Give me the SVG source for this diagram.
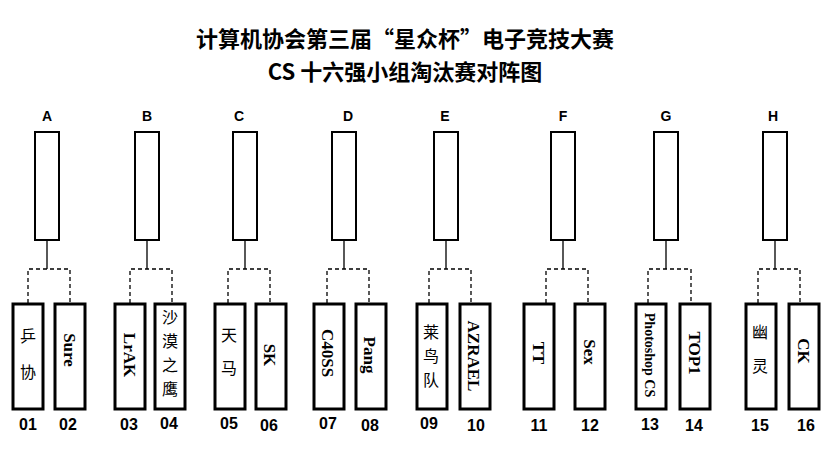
<svg xmlns="http://www.w3.org/2000/svg" width="836" height="457" viewBox="0 0 836 457">
<style>
.t{font-family:"Noto Sans CJK SC",sans-serif;font-weight:bold;font-size:22px;text-anchor:middle}
.g{font-family:"Liberation Sans",sans-serif;font-weight:bold;font-size:14px;text-anchor:middle}
.n{font-family:"Liberation Sans",sans-serif;font-weight:bold;font-size:16px;text-anchor:middle}
.top{fill:#fff;stroke:#000;stroke-width:2}
.b{fill:#fff;stroke:#000;stroke-width:3}
.l{font-family:"Liberation Serif",serif;font-size:17px;font-weight:bold;text-anchor:middle;fill:#000}
.c{font-family:"Noto Sans CJK SC",sans-serif;font-size:16px;text-anchor:middle;fill:#000}
.s{stroke:#000;stroke-width:1.3;fill:none}
.d{stroke:#000;stroke-width:1.3;fill:none;stroke-dasharray:4,3}
</style>
<rect width="836" height="457" fill="#fff"/>
<text class="t" x="405" y="47">计算机协会第三届“星众杯”电子竞技大赛</text>
<text class="t" x="405" y="80">CS 十六强小组淘汰赛对阵图</text>
<g id="connectors">
<path class="s" d="M47 240V269M147 240V269M245 240V269M344 240V269M446 240V269M563 240V269M666 240V269M775 240V269"/>
<path class="d" d="M28 303V269H70V303M130 303V269H172V303M228 303V269H270V303M327 303V269H369V303M429 303V269H471V303M546 303V269H588V303M648 303V269H691V303M758 303V269H800V303"/>
</g>
<g id="groups">
<g id="gA"><text class="g" x="47" y="121">A</text><rect class="top" x="35" y="132" width="24" height="108"/></g>
<g id="gB"><text class="g" x="147" y="121">B</text><rect class="top" x="135" y="132" width="24" height="108"/></g>
<g id="gC"><text class="g" x="239" y="121">C</text><rect class="top" x="233" y="132" width="24" height="108"/></g>
<g id="gD"><text class="g" x="348" y="121">D</text><rect class="top" x="332" y="132" width="24" height="108"/></g>
<g id="gE"><text class="g" x="445" y="121">E</text><rect class="top" x="434" y="132" width="24" height="108"/></g>
<g id="gF"><text class="g" x="563" y="121">F</text><rect class="top" x="551" y="132" width="24" height="108"/></g>
<g id="gG"><text class="g" x="666" y="121">G</text><rect class="top" x="654" y="132" width="24" height="108"/></g>
<g id="gH"><text class="g" x="773" y="121">H</text><rect class="top" x="763" y="132" width="24" height="108"/></g>
</g>
<g id="teams">
<g id="t01"><rect class="b" x="13" y="304" width="30" height="105"/><text class="c" x="28" y="342">乒</text><text class="c" x="28" y="378">协</text><text class="n" x="28" y="430">01</text></g>
<g id="t02"><rect class="b" x="55" y="304" width="30" height="105"/><text class="l" transform="translate(70 350) rotate(90)" y="6">Sure</text><text class="n" x="68" y="430">02</text></g>
<g id="t03"><rect class="b" x="115" y="304" width="30" height="105"/><text class="l" transform="translate(130 355) rotate(90)" y="6">LrAK</text><text class="n" x="129" y="430">03</text></g>
<g id="t04"><rect class="b" x="155" y="304" width="30" height="105"/><text class="c" x="170" y="323">沙</text><text class="c" x="170" y="347">漠</text><text class="c" x="170" y="371">之</text><text class="c" x="170" y="395">鹰</text><text class="n" x="169" y="429">04</text></g>
<g id="t05"><rect class="b" x="215" y="304" width="30" height="105"/><text class="c" x="229" y="341">天</text><text class="c" x="229" y="374">马</text><text class="n" x="229" y="429">05</text></g>
<g id="t06"><rect class="b" x="256" y="304" width="30" height="105"/><text class="l" transform="translate(270 355) rotate(90)" y="6">SK</text><text class="n" x="269" y="431">06</text></g>
<g id="t07"><rect class="b" x="314" y="304" width="30" height="105"/><text class="l" transform="translate(328 353) rotate(90)" y="6">C40SS</text><text class="n" x="328" y="429">07</text></g>
<g id="t08"><rect class="b" x="356" y="304" width="30" height="105"/><text class="l" transform="translate(370 355) rotate(90)" y="6">Pang</text><text class="n" x="370" y="431">08</text></g>
<g id="t09"><rect class="b" x="417" y="304" width="30" height="105"/><text class="c" x="431" y="338">莱</text><text class="c" x="431" y="362">鸟</text><text class="c" x="431" y="386">队</text><text class="n" x="429" y="429">09</text></g>
<g id="t10"><rect class="b" x="460" y="304" width="30" height="105"/><text class="l" transform="translate(474 356) rotate(90)" y="6">AZRAEL</text><text class="n" x="476" y="431">10</text></g>
<g id="t11"><rect class="b" x="524" y="304" width="30" height="105"/><text class="l" transform="translate(539 353) rotate(90)" y="6">TT</text><text class="n" x="539" y="431">11</text></g>
<g id="t12"><rect class="b" x="575" y="304" width="30" height="105"/><text class="l" transform="translate(590 352) rotate(90)" y="6">Sex</text><text class="n" x="590" y="431">12</text></g>
<g id="t13"><rect class="b" x="636" y="304" width="30" height="105"/><text class="l" style="font-size:14px" transform="translate(650 355) rotate(90)" y="5">Photoshop CS</text><text class="n" x="650" y="430">13</text></g>
<g id="t14"><rect class="b" x="680" y="304" width="30" height="105"/><text class="l" transform="translate(695 353) rotate(90)" y="6">TOP1</text><text class="n" x="694" y="431">14</text></g>
<g id="t15"><rect class="b" x="746" y="304" width="30" height="105"/><text class="c" x="760" y="338">幽</text><text class="c" x="760" y="372">灵</text><text class="n" x="760" y="431">15</text></g>
<g id="t16"><rect class="b" x="789" y="304" width="30" height="105"/><text class="l" transform="translate(804 351) rotate(90)" y="6">CK</text><text class="n" x="806" y="431">16</text></g>
</g>
</svg>
